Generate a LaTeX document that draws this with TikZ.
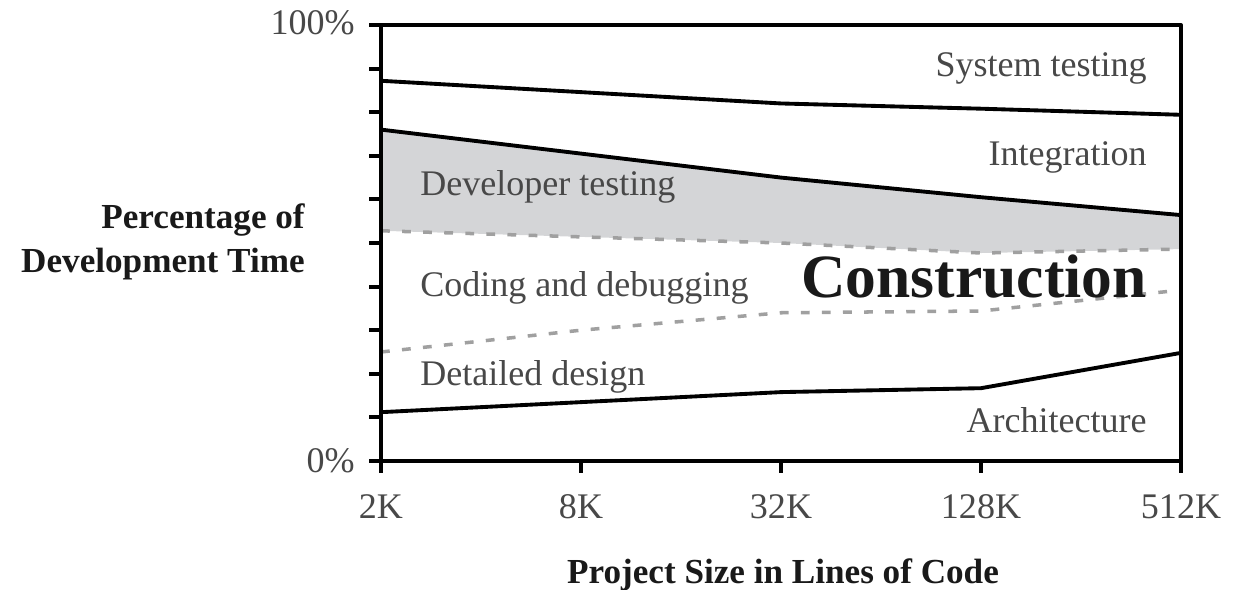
\documentclass[tikz,border=0pt]{standalone}
\usepackage{fontspec}
\setmainfont{Liberation Serif}
\usepackage{tikz}
\definecolor{bandgray}{RGB}{212,213,215}
\definecolor{dashgray}{RGB}{160,160,160}
\definecolor{labelgray}{RGB}{72,72,72}
\tikzset{curve/.style={line width=2.2pt, line join=round},
  dashcurve/.style={line width=2pt, dashgray, dash pattern=on 5pt off 7pt},
  phase/.style={inner sep=0, text=labelgray, font=\fontsize{20.5}{24}\selectfont},
  ticklabel/.style={inner sep=0, text=labelgray, font=\fontsize{20.5}{24}\selectfont},
  axistitle/.style={inner sep=0, text=black!90, font=\bfseries\fontsize{20}{25}\selectfont}}

\begin{document}
\begin{tikzpicture}[x=4cm, y=0.0872cm]
    \useasboundingbox (-1.905,-29.36) rectangle (4.295,105.73);
    % developer testing band
    \fill[bandgray] (0,76) -- (2,65) -- (3,60.5) -- (4,56.4) -- (4,48.6) -- (3,47.7) -- (2,50) -- (0,52.8) -- cycle;
    \draw[dashcurve] (0,52.8) -- (2,50) -- (3,47.7) -- (4,48.6);
    \draw[dashcurve] (0,25) -- (1,30) -- (2,34) -- (3,34.4) -- (4,39.2);
    \draw[curve] (0,87.2) -- (2,82) -- (3,80.8) -- (4,79.4);
    \draw[curve] (0,76) -- (2,65) -- (3,60.5) -- (4,56.4);
    \draw[curve] (0,11.2) -- (2,15.8) -- (3,16.7) -- (4,24.8);
    % frame and ticks
    \draw[curve] (0,0) rectangle (4,100);
    \foreach \p in {0,10,...,100}
        \draw[curve] (0,\p) -- (-0.06,\p);
    \foreach \k in {0,...,4}
        \draw[curve] (\k,0) -- (\k,-2.75);
    % phases
    \node[phase, anchor=base east] (systest) at (3.83, 88.1) {System testing};
    \node[phase, anchor=base east] (integ) at (3.83, 67.7) {Integration};
    \node[phase, anchor=base west] (devtest) at (0.195, 60.8) {Developer testing};
    \node[phase, anchor=base west] (coding) at (0.195, 37.8) {Coding and debugging};
    \node[anchor=base east, inner sep=0, text=black!90, font=\bfseries\fontsize{35}{40}\selectfont] (constr) at (3.83, 37.4) {Construction};
    \node[phase, anchor=base west] (detdes) at (0.195, 17.4) {Detailed design};
    \node[phase, anchor=base east] (arch) at (3.83, 6.65) {Architecture};
    % axes
    \node[ticklabel, anchor=base east] (full) at (-0.13, 97.9) {100\%};
    \node[ticklabel, anchor=base east] (none) at (-0.13, -2.75) {0\%};
    \foreach \k/\lbl in {0/2K, 1/8K, 2/32K, 3/128K, 4/512K}
        \node[ticklabel, anchor=base] (size\k) at (\k, -13.1) {\lbl};
    \node[axistitle, anchor=base east] (ytitle) at (-0.38, 53.4) {Percentage of};
    \node[axistitle, anchor=base east] (ytitle2) at (-0.38, 43.3) {Development Time};
    \node[axistitle, anchor=base] (xtitle) at (2.01, -28.0) {Project Size in Lines of Code};
\end{tikzpicture}
\end{document}
